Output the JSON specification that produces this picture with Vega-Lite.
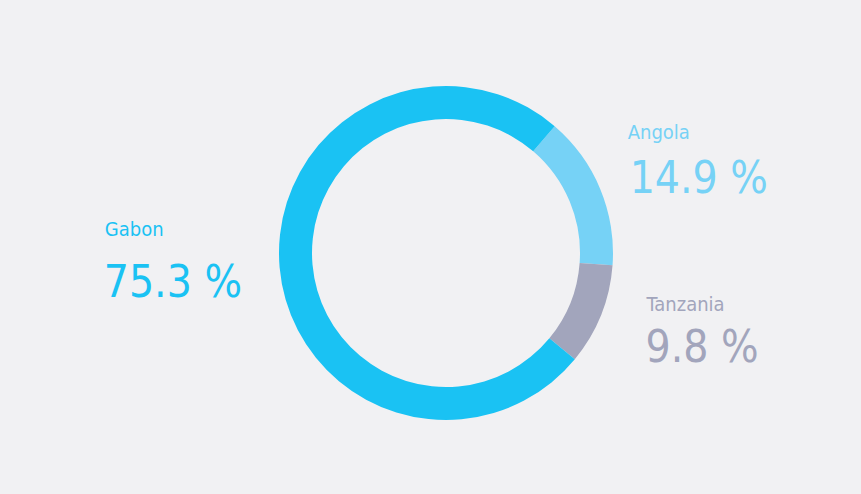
{
  "$schema": "https://vega.github.io/schema/vega-lite/v6.json",
  "width": 861,
  "height": 494,
  "autosize": {"type": "fit", "contains": "padding"},
  "padding": {"left": 31, "top": 12, "right": 0, "bottom": 0},
  "background": "#f1f1f3",
  "config": {"view": {"stroke": null}, "text": {"font": "DejaVu Sans Condensed, Roboto, sans-serif"}},
  "data": {
    "values": [
      {"country": "Angola", "share": 14.9, "ord": 1},
      {"country": "Tanzania", "share": 9.8, "ord": 2},
      {"country": "Gabon", "share": 75.3, "ord": 3}
    ]
  },
  "transform": [
    {"calculate": "format(datum.share, '.1f') + ' %'", "as": "pct"}
  ],
  "encoding": {
    "theta": {"field": "share", "type": "quantitative", "stack": true, "scale": {"range": [0.7086, 6.9918]}},
    "order": {"field": "ord", "type": "quantitative"},
    "color": {
      "field": "country", "type": "nominal", "legend": null,
      "scale": {"domain": ["Gabon", "Angola", "Tanzania"], "range": ["#1ac2f3", "#76d2f6", "#a2a5bc"]}
    }
  },
  "layer": [
    {"mark": {"type": "arc", "outerRadius": 167, "innerRadius": 134, "strokeWidth": 0}},
    {
      "mark": {"type": "text", "radius": 200, "align": "left", "baseline": "alphabetic", "fontSize": 20, "dx": -142, "dy": -34},
      "encoding": {"text": {"condition": {"test": "datum.country === 'Gabon'", "field": "country"}, "value": ""}}
    },
    {
      "mark": {"type": "text", "radius": 200, "align": "left", "baseline": "alphabetic", "fontSize": 44, "dx": -143, "dy": 27},
      "encoding": {"text": {"condition": {"test": "datum.country === 'Gabon'", "field": "pct"}, "value": ""}}
    },
    {
      "mark": {"type": "text", "radius": 200, "align": "left", "baseline": "alphabetic", "fontSize": 20, "dx": -3, "dy": -37},
      "encoding": {"text": {"condition": {"test": "datum.country === 'Angola'", "field": "country"}, "value": ""}}
    },
    {
      "mark": {"type": "text", "radius": 200, "align": "left", "baseline": "alphabetic", "fontSize": 44, "dx": -1, "dy": 17},
      "encoding": {"text": {"condition": {"test": "datum.country === 'Angola'", "field": "pct"}, "value": ""}}
    },
    {
      "mark": {"type": "text", "radius": 200, "align": "left", "baseline": "alphabetic", "fontSize": 20, "dx": 15, "dy": -17},
      "encoding": {"text": {"condition": {"test": "datum.country === 'Tanzania'", "field": "country"}, "value": ""}}
    },
    {
      "mark": {"type": "text", "radius": 200, "align": "left", "baseline": "alphabetic", "fontSize": 44, "dx": 14, "dy": 34},
      "encoding": {"text": {"condition": {"test": "datum.country === 'Tanzania'", "field": "pct"}, "value": ""}}
    }
  ]
}
